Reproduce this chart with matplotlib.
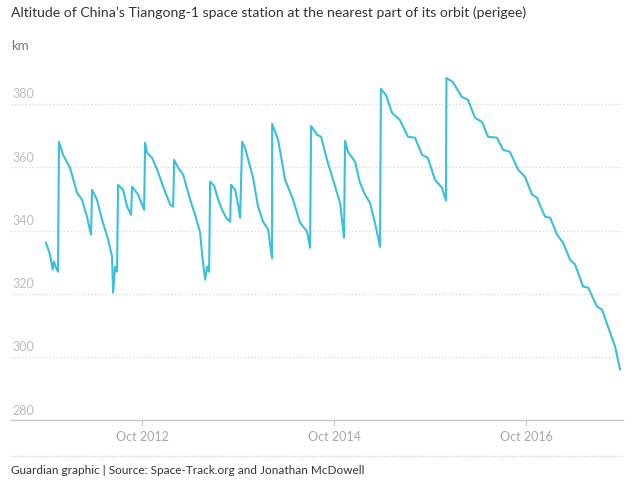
import matplotlib
matplotlib.use("Agg")
import matplotlib.pyplot as plt
import matplotlib.transforms as mtransforms
import pandas as pd

# decimal year of each reading and perigee altitude (km)
years = [
    2011.746, 2011.788, 2011.816, 2011.829, 2011.850, 2011.871, 2011.881, 2011.923,
    2011.996, 2012.069, 2012.121, 2012.173, 2012.215, 2012.225, 2012.277, 2012.329,
    2012.392, 2012.433, 2012.444, 2012.465, 2012.485, 2012.496, 2012.548, 2012.590,
    2012.631, 2012.642, 2012.704, 2012.767, 2012.777, 2012.798, 2012.850, 2012.902,
    2012.965, 2013.038, 2013.069, 2013.079, 2013.121, 2013.173, 2013.246, 2013.298,
    2013.350, 2013.371, 2013.402, 2013.423, 2013.444, 2013.454, 2013.496, 2013.538,
    2013.579, 2013.621, 2013.663, 2013.673, 2013.715, 2013.746, 2013.767, 2013.788,
    2013.819, 2013.871, 2013.902, 2013.954, 2014.007, 2014.059, 2014.100, 2014.101,
    2014.163, 2014.236, 2014.319, 2014.392, 2014.465, 2014.496, 2014.507, 2014.569,
    2014.611, 2014.673, 2014.736, 2014.809, 2014.850, 2014.861, 2014.892, 2014.965,
    2015.017, 2015.069, 2015.121, 2015.173, 2015.225, 2015.235, 2015.288, 2015.350,
    2015.433, 2015.517, 2015.590, 2015.663, 2015.725, 2015.798, 2015.871, 2015.913,
    2015.918, 2015.985, 2016.079, 2016.142, 2016.215, 2016.288, 2016.350, 2016.444,
    2016.506, 2016.579, 2016.663, 2016.735, 2016.808, 2016.860, 2016.892, 2016.944,
    2016.996, 2017.069, 2017.131, 2017.204, 2017.256, 2017.340, 2017.392, 2017.485,
    2017.538, 2017.621, 2017.673, 2017.725,
]
perigee = [
    336.2, 332.4, 327.7, 330.2, 328.3, 327.0, 368.1, 364.0,
    359.9, 352.0, 349.8, 344.4, 338.7, 352.9, 349.8, 343.5,
    337.2, 331.8, 320.4, 328.6, 327.0, 354.5, 352.9, 347.6,
    345.0, 353.9, 351.4, 346.6, 367.8, 364.6, 363.0, 359.3,
    353.9, 348.2, 347.6, 362.4, 359.9, 357.7, 349.8, 345.0,
    339.4, 332.4, 324.5, 328.6, 327.0, 355.5, 354.2, 349.8,
    346.6, 344.1, 342.8, 354.5, 352.9, 348.2, 344.1, 368.1,
    366.2, 360.2, 356.7, 347.6, 342.8, 340.3, 331.2, 373.8,
    368.7, 356.1, 349.8, 342.5, 339.7, 334.6, 373.1, 370.3,
    369.7, 362.4, 356.1, 348.8, 337.8, 368.4, 364.9, 361.8,
    355.1, 351.4, 348.8, 342.5, 334.9, 384.8, 382.9, 377.3,
    375.0, 369.7, 369.4, 364.0, 363.0, 356.1, 353.6, 349.5,
    388.3, 387.0, 382.3, 381.4, 375.7, 374.4, 369.7, 369.4,
    365.6, 364.9, 359.3, 357.0, 351.4, 350.4, 348.0, 344.4,
    344.1, 338.7, 336.2, 330.8, 329.3, 322.3, 322.0, 316.0,
    315.0, 307.8, 303.4, 296.1,
]

y_ticks = [280, 300, 320, 340, 360, 380]
x_tick_dates = ["2012-10-01", "2014-10-01", "2016-10-01"]
x_tick_labels = ["Oct 2012", "Oct 2014", "Oct 2016"]

TITLE = "Altitude of China\u2019s Tiangong-1 space station at the nearest part of its orbit (perigee)"
SOURCE = "Guardian graphic | Source: Space-Track.org and Jonathan McDowell"

FONT = "Lato"
LINE = "#38c0dc"


def to_dates(yrs):
    out = []
    for y in yrs:
        yr = int(y)
        start = pd.Timestamp(f"{yr}-01-01")
        end = pd.Timestamp(f"{yr + 1}-01-01")
        out.append(start + (end - start) * (y - yr))
    return out


dates = to_dates(years)

fig = plt.figure(figsize=(6.4, 4.9), dpi=100)
fig.patch.set_facecolor("white")
ax = fig.add_axes([11 / 640, 1 - 420.3 / 490, 612 / 640, (420.3 - 72.6) / 490])

ax.plot(dates, perigee, color=LINE, linewidth=1.5, solid_joinstyle="round")

ax.set_ylim(280, 390)
ax.set_xlim(to_dates([2011.381])[0], to_dates([2017.756])[0])

for s in ["top", "right", "left"]:
    ax.spines[s].set_visible(False)
ax.spines["bottom"].set_color("#c8c8c8")
ax.spines["bottom"].set_linewidth(1)

# dotted gridlines, label sitting above each line
ax.set_yticks(y_ticks)
ax.set_yticklabels([])
ax.tick_params(axis="y", length=0)
for t in y_ticks[1:]:
    ax.axhline(t, color="#dcdcdc", linewidth=1, linestyle=(0, (1, 1.5)), zorder=0)
trans = mtransforms.blended_transform_factory(ax.transAxes, ax.transData)
for t in y_ticks:
    ax.text(0.002, t + 1.2, str(t), transform=trans, ha="left", va="bottom",
            fontsize=9, color="#bdbdbd", family=FONT)

ax.set_xticks(pd.to_datetime(x_tick_dates))
ax.set_xticklabels(x_tick_labels, fontsize=9, color="#a8a8a8", family=FONT)
ax.tick_params(axis="x", length=4, width=0.8, color="#c8c8c8", pad=4)

fig.text(11 / 640, 1 - 13 / 490, TITLE, ha="left", va="center",
         fontsize=10.1, color="#333333", family=FONT)
fig.text(11 / 640, 1 - 46 / 490, "km", ha="left", va="center",
         fontsize=9.5, color="#767676", family=FONT)

fig.add_artist(plt.Line2D([11 / 640, 623 / 640], [1 - 456 / 490, 1 - 456 / 490],
                          color="#d6d6d6", linewidth=1, linestyle=(0, (1, 1))))
fig.text(11 / 640, 1 - 470 / 490, SOURCE, ha="left", va="center",
         fontsize=8.5, color="#333333", family=FONT)

fig.savefig("out.png", dpi=100, facecolor="white")
